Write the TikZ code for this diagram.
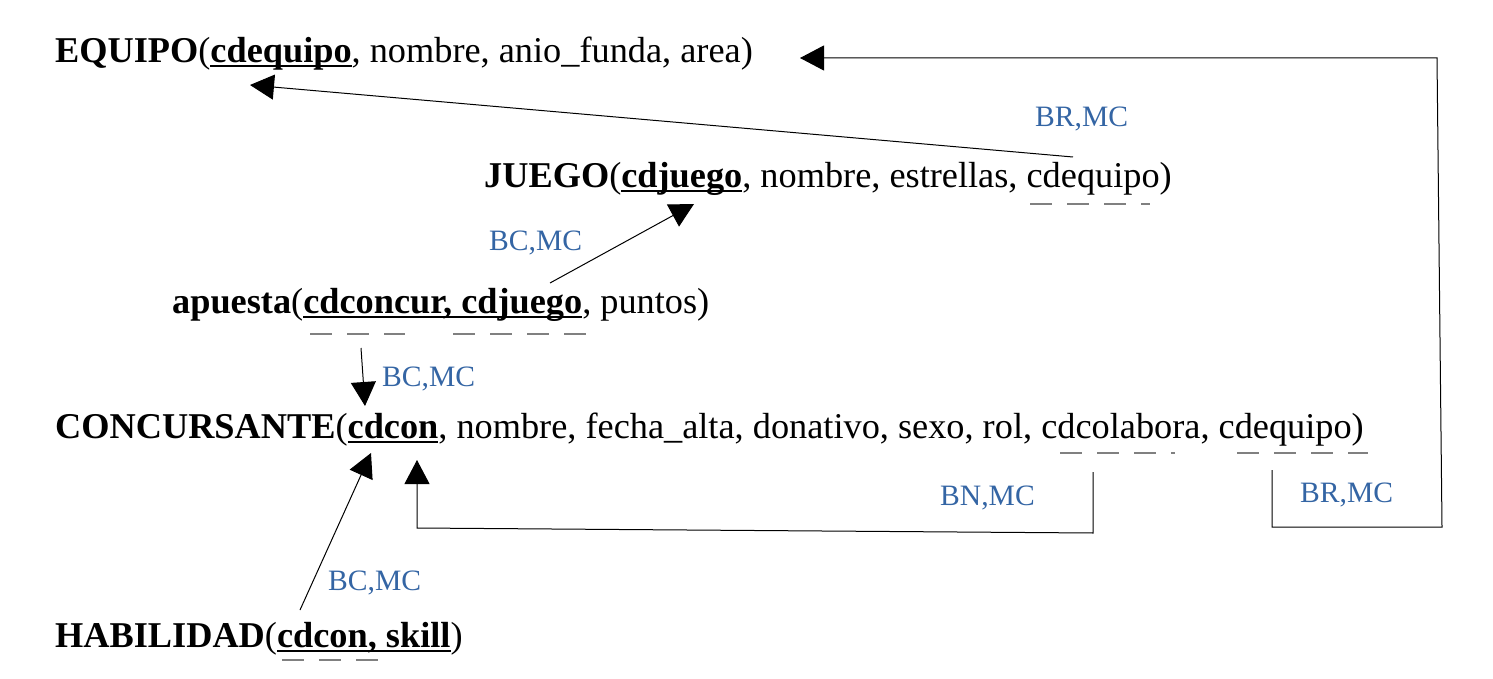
\documentclass[tikz,border=0pt]{standalone}
\usepackage{fontspec}
\setmainfont{Liberation Serif}
\usetikzlibrary{arrows.meta}
\definecolor{lblue}{RGB}{52,101,164}
\newcommand{\pkey}[1]{\setbox0\hbox{\textbf{#1}}\rlap{\rule[-4.5pt]{\wd0}{2pt}}\box0}
\begin{document}
\begin{tikzpicture}[x=1pt,y=-1pt,
  ent/.style={anchor=base west, inner sep=0pt, font=\fontsize{36.3}{40}\selectfont},
  lab/.style={anchor=base west, inner sep=0pt, text=lblue, font=\fontsize{29.6}{32}\selectfont},
  conn/.style={draw=black, line width=1pt, -{Triangle[length=24pt,width=25pt]}},
  fk/.style={draw=gray, line width=1.3pt, dash pattern=on 22pt off 15pt}]
\useasboundingbox (0,0) rectangle (1493,679);
% entities
\node[ent] (equipo) at (55,63) {\textbf{EQUIPO}(\pkey{cdequipo}, nombre, anio\_funda, area)};
\node[ent] (juego) at (484,188) {\textbf{JUEGO}(\pkey{cdjuego}, nombre, estrellas, cdequipo)};
\node[ent] (apuesta) at (172,313) {\textbf{apuesta}(\pkey{cdconcur, cdjuego}, puntos)};
\node[ent] (concur) at (55,438) {\textbf{CONCURSANTE}(\pkey{cdcon}, nombre, fecha\_alta, donativo, sexo, rol, cdcolabora, cdequipo)};
\node[ent] (habil) at (55,647) {\textbf{HABILIDAD}(\pkey{cdcon, skill})};
% foreign key dashes
\draw[fk] (1030,204) -- (1150,204);
\draw[fk] (310,334) -- (405,334);
\draw[fk] (453,334) -- (587,334);
\draw[fk] (1060,453) -- (1175,453);
\draw[fk] (1237,453) -- (1368,453);
\draw[fk] (282,660) -- (378,660);
% connector end points
\coordinate (jfk) at (1073,157);
\coordinate (epk) at (250,85);
\coordinate (cfkeq) at (1272,470);
\coordinate (c1) at (1272,527);
\coordinate (c2) at (1442,527);
\coordinate (c3) at (1437,58);
\coordinate (eend) at (800,58);
\coordinate (afkj) at (550,283);
\coordinate (jpk) at (694,204);
\coordinate (afkc) at (361,348);
\coordinate (cpk1) at (365,406);
\coordinate (hfk) at (300,610);
\coordinate (cpk2) at (371,453);
\coordinate (cfkcol) at (1093,472);
\coordinate (d1) at (1093,533);
\coordinate (d2) at (417,528);
\coordinate (cpk3) at (417,460);
% connectors
\draw[conn] (jfk) -- (epk);
\draw[conn] (cfkeq) -- (c1) -- (c2) -- (c3) -- (eend);
\draw[conn] (afkj) -- (jpk);
\draw[conn] (afkc) -- (cpk1);
\draw[conn] (hfk) -- (cpk2);
\draw[conn] (cfkcol) -- (d1) -- (d2) -- (cpk3);
% labels
\node[lab] (l1) at (1035,127) {BR,MC};
\node[lab] (l2) at (489,250) {BC,MC};
\node[lab] (l3) at (382,386) {BC,MC};
\node[lab] (l4) at (940,505) {BN,MC};
\node[lab] (l5) at (1300,502) {BR,MC};
\node[lab] (l6) at (328,590) {BC,MC};
\end{tikzpicture}
\end{document}
